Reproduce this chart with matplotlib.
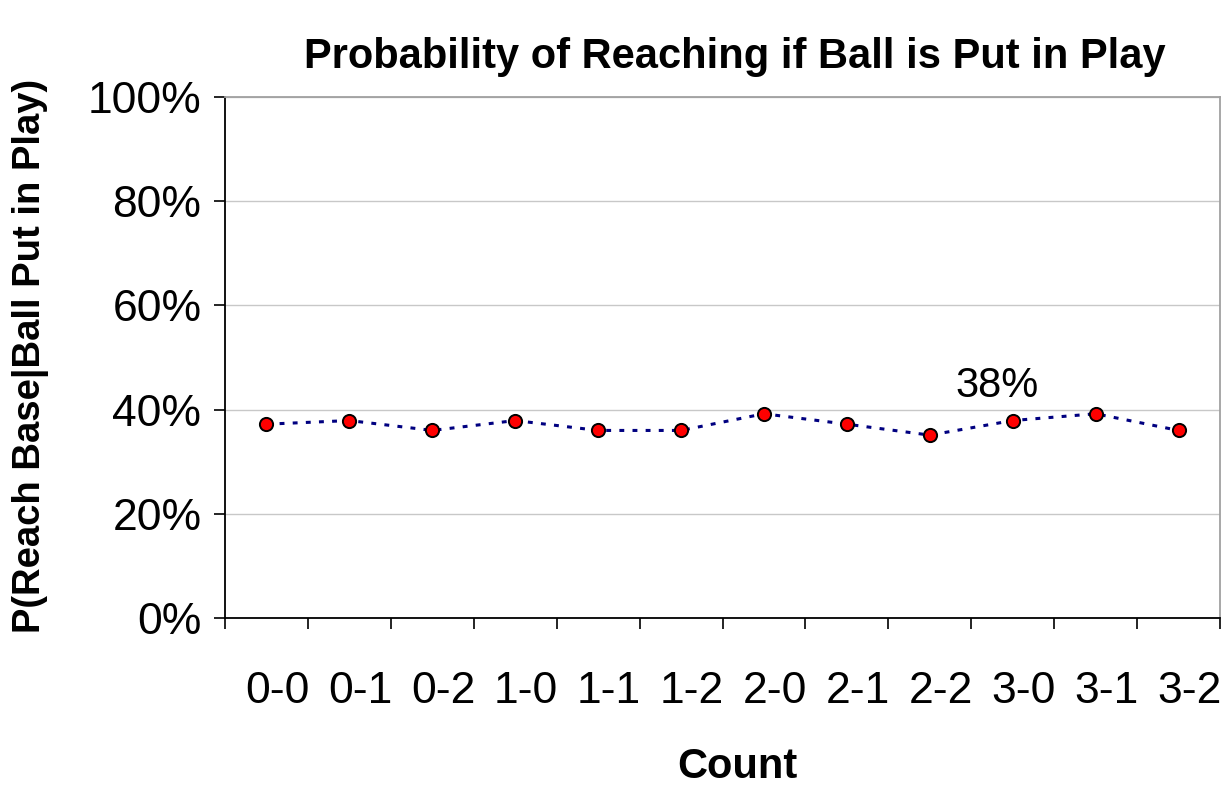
import matplotlib
matplotlib.use("Agg")
import matplotlib.pyplot as plt
from matplotlib.ticker import PercentFormatter
from matplotlib.transforms import ScaledTranslation

categories = ["0-0", "0-1", "0-2", "1-0", "1-1", "1-2", "2-0", "2-1", "2-2", "3-0", "3-1", "3-2"]
values = [37.2, 37.9, 36.0, 37.9, 36.0, 36.0, 39.2, 37.2, 35.1, 37.9, 39.2, 36.0]
label_index = 9
label_text = "38%"

plt.rcParams['font.family'] = ['Liberation Sans', 'DejaVu Sans']

fig = plt.figure(figsize=(12.26, 7.86), dpi=100)
ax = fig.add_axes([225/1226, 1 - 618/786, 995/1226, 521/786])

x = list(range(len(categories)))
ax.plot(x, values, linestyle=(0, (1.6, 2.7)), color='#000080', linewidth=2.2,
        marker='o', markersize=9.5, markerfacecolor='#ff0000',
        markeredgecolor='black', markeredgewidth=1.4, zorder=3)

ax.annotate(label_text, (x[label_index], values[label_index]), xytext=(-11, 25),
            textcoords='offset points', ha='center', va='center', fontsize=30)

ax.set_xlim(-0.5, len(categories) - 0.5)
ax.set_ylim(0, 100)
ax.set_yticks([0, 20, 40, 60, 80, 100])
ax.yaxis.set_major_formatter(PercentFormatter(decimals=0))
ax.set_xticks([i - 0.5 for i in range(len(categories) + 1)])
ax.set_xticklabels([])
ax.set_xticks(x, minor=True)
ax.set_xticklabels(categories, minor=True)
ax.tick_params(axis='x', which='major', length=8, width=1.2, direction='out')
ax.tick_params(axis='x', which='minor', length=0, pad=38, labelsize=32)
ax.tick_params(axis='y', length=8, width=1.2, direction='out', labelsize=32, pad=9)
shift = ScaledTranslation(11 / 100, 0, fig.dpi_scale_trans)
for lab in ax.xaxis.get_minorticklabels():
    lab.set_transform(lab.get_transform() + shift)

ax.yaxis.grid(True, color='#c8c8c8', linewidth=1)
ax.set_axisbelow(True)
for s in ['left', 'bottom']:
    ax.spines[s].set_color('black')
    ax.spines[s].set_linewidth(1.3)
for s in ['top', 'right']:
    ax.spines[s].set_color('#a0a0a0')
    ax.spines[s].set_linewidth(1.3)

fig.text(735 / 1226, 1 - 57 / 786, "Probability of Reaching if Ball is Put in Play",
         ha='center', va='center', fontsize=30, fontweight='bold')
fig.text(737 / 1226, 1 - 767 / 786, "Count",
         ha='center', va='center', fontsize=30, fontweight='bold')
fig.text(31 / 1226, 1 - 356 / 786, "P(Reach Base|Ball Put in Play)", rotation=90,
         ha='center', va='center', fontsize=27.5, fontweight='bold')

fig.savefig("out.png", dpi=100)
